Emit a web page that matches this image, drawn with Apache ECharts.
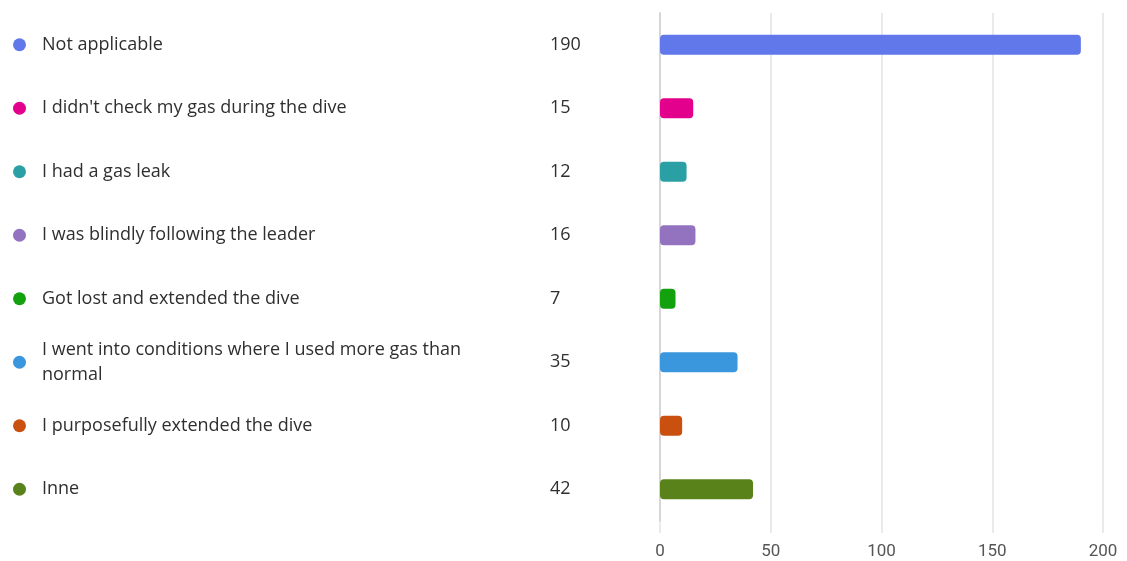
<!DOCTYPE html>
<html>
<head>
<meta charset="utf-8">
<script src="https://cdn.jsdelivr.net/npm/echarts@6/dist/echarts.min.js"></script>
<style>
  html, body { margin: 0; padding: 0; background: #ffffff; }
  #chart { width: 1127px; height: 561px; }
</style>
</head>
<body>
<div id="chart"></div>
<script>
// Answer options, response counts and one colour per option
const categories = [
  'Not applicable',
  "I didn't check my gas during the dive",
  'I had a gas leak',
  'I was blindly following the leader',
  'Got lost and extended the dive',
  'I went into conditions where I used more gas than normal',
  'I purposefully extended the dive',
  'Inne'
];
const counts = [190, 15, 12, 16, 7, 35, 10, 42];
const colors = ['#6078EA', '#E3008C', '#2AA0A4', '#9373C0', '#13A10E', '#3A96DD', '#CA5010', '#5A821A'];
const xTicks = { min: 0, max: 200, interval: 50 };

const textFont = '"Open Sans", "Noto Sans", sans-serif';
const gridLeft = 660;

// one rich style per option for the round marker
const dotRich = {};
colors.forEach((c, i) => {
  dotRich['c' + i] = { width: 13, height: 13, borderRadius: 6.5, backgroundColor: c };
});

const hiddenAxisParts = {
  axisLine: { show: false },
  axisTick: { show: false },
  splitLine: { show: false }
};

const chart = echarts.init(document.getElementById('chart'), null, { renderer: 'canvas' });
chart.setOption({
  animation: false,
  grid: { left: gridLeft, right: 24, top: 13, bottom: 40, containLabel: false, outerBoundsMode: 'none' },
  xAxis: {
    type: 'value',
    min: xTicks.min,
    max: xTicks.max,
    interval: xTicks.interval,
    axisLine: { show: false },
    axisTick: { show: true, length: 12, lineStyle: { color: '#e3e3e3', width: 1.5 } },
    splitLine: { show: true, lineStyle: { color: '#e3e3e3', width: 1.5 } },
    axisLabel: { color: '#555555', fontSize: 17, margin: 22, fontFamily: 'Roboto, "Liberation Sans", sans-serif' }
  },
  yAxis: [
    {
      // axis carrying the bars, with the darker zero line
      type: 'category',
      inverse: true,
      data: categories,
      axisLine: { show: true, lineStyle: { color: '#d6d6d6', width: 2 } },
      axisTick: { show: false },
      axisLabel: { show: false }
    },
    {
      // coloured markers
      type: 'category',
      inverse: true,
      data: categories,
      position: 'left',
      ...hiddenAxisParts,
      axisLabel: {
        align: 'left',
        margin: gridLeft - 13,
        formatter: (v, i) => '{c' + i + '| }',
        rich: dotRich
      }
    },
    {
      // option names
      type: 'category',
      inverse: true,
      data: categories,
      position: 'left',
      ...hiddenAxisParts,
      axisLabel: {
        align: 'left',
        margin: gridLeft - 42,
        width: 430,
        overflow: 'break',
        lineHeight: 25,
        color: '#2f2f2f',
        fontSize: 18,
        fontFamily: textFont
      }
    },
    {
      // response counts
      type: 'category',
      inverse: true,
      data: categories,
      position: 'left',
      ...hiddenAxisParts,
      axisLabel: {
        align: 'left',
        margin: gridLeft - 550,
        color: '#2f2f2f',
        fontSize: 18,
        fontFamily: textFont,
        formatter: (v, i) => String(counts[i])
      }
    }
  ],
  series: [
    {
      type: 'bar',
      yAxisIndex: 0,
      barWidth: 20,
      data: counts.map((v, i) => ({ value: v, itemStyle: { color: colors[i] } })),
      itemStyle: { borderRadius: 4 }
    }
  ]
});
</script>
</body>
</html>
